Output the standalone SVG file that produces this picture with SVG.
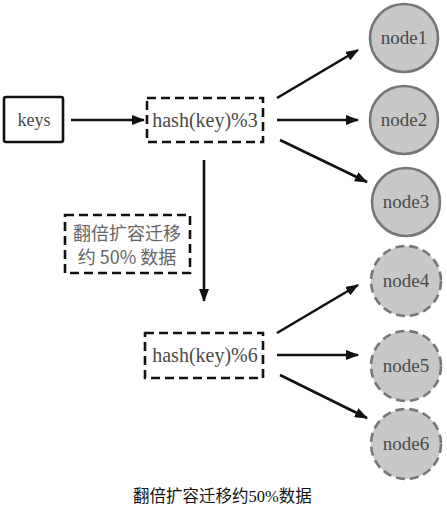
<svg xmlns="http://www.w3.org/2000/svg" width="447" height="509" viewBox="0 0 447 509">
<style>
.bg{fill:#fff}
.box{fill:#fff;stroke:#111;stroke-width:2.6}
.dash{stroke-dasharray:9 5}
.node{fill:#c8c8c8;stroke:#767676;stroke-width:2.6}
.ndash{stroke-dasharray:9 5}
.t{font-family:"Liberation Serif",serif;fill:#4a4a4a;text-anchor:middle}
.cj{font-family:"Noto Sans CJK SC",sans-serif;fill:#666;text-anchor:middle;font-size:18px}
.cap{font-family:"Liberation Serif","Noto Sans CJK SC",serif;fill:#111;font-size:16.5px}
.edge{stroke:#111;stroke-width:2.6;fill:none;marker-end:url(#ah)}
</style>
<defs>
<marker id="ah" markerWidth="13" markerHeight="10" refX="12" refY="5" orient="auto" markerUnits="userSpaceOnUse">
<path d="M0,0 L13,5 L0,10 Z" fill="#111"/>
</marker>
</defs>
<rect class="bg" x="0" y="0" width="447" height="509"/>
<g id="connectors">
<line class="edge" x1="71" y1="120" x2="144" y2="120"/>
<line class="edge" x1="277" y1="98" x2="358" y2="50"/>
<line class="edge" x1="277" y1="120" x2="358" y2="120"/>
<line class="edge" x1="280" y1="140" x2="367" y2="182"/>
<line class="edge" x1="204" y1="160" x2="204" y2="301"/>
<line class="edge" x1="277" y1="333" x2="358" y2="285"/>
<line class="edge" x1="277" y1="355" x2="358" y2="355"/>
<line class="edge" x1="280" y1="375" x2="367" y2="418"/>
</g>
<g id="keys">
<rect class="box" x="4" y="97" width="59" height="45" rx="2"/>
<text class="t" x="34" y="126" font-size="18">keys</text>
</g>
<g id="hash3">
<rect class="box dash" x="147" y="98" width="116" height="44"/>
<text class="t" x="205" y="127" font-size="20">hash(key)%3</text>
</g>
<g id="label">
<rect class="box dash" x="65" y="215" width="125" height="58"/>
<text class="cj" x="127" y="240">翻倍扩容迁移</text>
<text class="cj" x="127" y="264">约 50% 数据</text>
</g>
<g id="hash6">
<rect class="box dash" x="145" y="333" width="118" height="45"/>
<text class="t" x="205" y="362" font-size="20">hash(key)%6</text>
</g>
<g id="node1"><circle class="node" cx="404" cy="38" r="34"/><text class="t" x="404" y="44" font-size="19">node1</text></g>
<g id="node2"><circle class="node" cx="404" cy="120" r="34"/><text class="t" x="404" y="126" font-size="19">node2</text></g>
<g id="node3"><circle class="node" cx="406" cy="202" r="34"/><text class="t" x="406" y="208" font-size="19">node3</text></g>
<g id="node4"><circle class="node ndash" cx="406" cy="281" r="35"/><text class="t" x="406" y="287" font-size="19">node4</text></g>
<g id="node5"><circle class="node ndash" cx="406" cy="366" r="35"/><text class="t" x="406" y="372" font-size="19">node5</text></g>
<g id="node6"><circle class="node ndash" cx="406" cy="444" r="35"/><text class="t" x="406" y="450" font-size="19">node6</text></g>
<text class="cap" x="133" y="502">翻倍扩容迁移约50%数据</text>
</svg>
